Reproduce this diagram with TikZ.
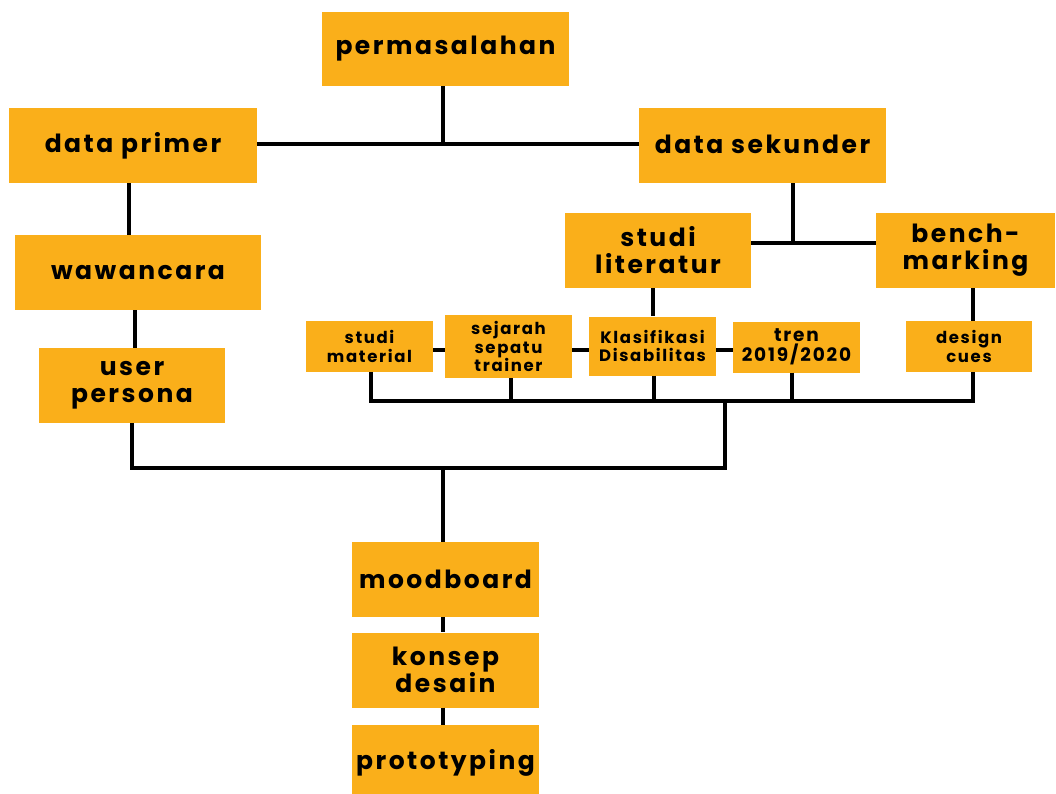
\documentclass[tikz,border=0pt]{standalone}
\usepackage{fontspec}
\setmainfont{Poppins}[LetterSpace=10]
\definecolor{boxorange}{RGB}{250,175,26}
\begin{document}
\begin{tikzpicture}[x=1pt,y=-1pt,
  box/.style={fill=boxorange,draw=none,inner sep=0pt,align=center,text=black,font=\bfseries\fontsize{25}{27}\selectfont},
  smallbox/.style={box,font=\bfseries\fontsize{16.5}{18.5}\selectfont},
  conn/.style={line width=3.5pt,draw=black}]
\useasboundingbox (0,0) rectangle (1056,794);
\fill[white] (0,0) rectangle (1056,794);
% big boxes
\node[box,minimum width=247pt,minimum height=74pt] (perm) at (445.5,49) {\raisebox{1.5pt}{permasalahan}};
\node[box,minimum width=248pt,minimum height=75pt] (dp) at (133,145.5) {\raisebox{2.5pt}{data primer}};
\node[box,minimum width=247pt,minimum height=75pt] (ds) at (762.5,145.5) {\raisebox{2.5pt}{data sekunder}};
\node[box,minimum width=246pt,minimum height=75pt] (waw) at (138,272.5) {wawancara};
\node[box,minimum width=186pt,minimum height=75pt] (up) at (132,385.5) {user\\persona};
\node[box,minimum width=186pt,minimum height=75pt] (sl) at (658,250.5) {studi\\literatur};
\node[box,minimum width=179pt,minimum height=75pt] (bm) at (965.5,250.5) {bench-\\marking};
% small boxes
\node[smallbox,minimum width=127pt,minimum height=51pt] (sm) at (369.5,346.5) {studi\\material};
\node[smallbox,minimum width=127pt,minimum height=63pt] (sst) at (508.5,346.5) {sejarah\\sepatu\\trainer};
\node[smallbox,minimum width=127pt,minimum height=59pt] (kd) at (652.5,346) {Klasifikasi\\Disabilitas};
\node[smallbox,minimum width=127pt,minimum height=51pt,font=\bfseries\fontsize{18.5}{19.5}\selectfont] (tr) at (796.5,347) {tren\\2019/2020};
\node[smallbox,minimum width=126pt,minimum height=51pt] (dc) at (969,346.5) {design\\cues};
% bottom column
\node[box,minimum width=187pt,minimum height=75pt] (mb) at (445.5,579.5) {moodboard};
\node[box,minimum width=187pt,minimum height=75pt] (kds) at (445.5,670) {konsep\\desain};
\node[box,minimum width=187pt,minimum height=75pt] (pt) at (445.5,762.5) {prototyping};
% junction coordinates
\coordinate (j1) at (443,144);
\coordinate (j2) at (793,243);
\coordinate (busL) at (371,401);
\coordinate (busR) at (973,401);
\coordinate (busM) at (725,401);
\coordinate (lowM) at (725,468);
\coordinate (lowL) at (132,468);
\coordinate (lowC) at (443,468);
% connectors
\draw[conn] (dp.east |- j1) -- (ds.west |- j1);
\draw[conn] (perm.south -| j1) -- (j1);
\draw[conn] (dp.south -| 129,0) -- (waw.north -| 129,0);
\draw[conn] (waw.south -| 135,0) -- (up.north -| 135,0);
\draw[conn] (ds.south -| j2) -- (j2);
\draw[conn] (sl.east |- j2) -- (bm.west |- j2);
\draw[conn] (sl.south -| 653,0) -- (kd.north -| 653,0);
\draw[conn] (bm.south -| busR) -- (dc.north -| busR);
\draw[conn] (sm.east |- 0,350) -- (sst.west |- 0,350);
\draw[conn] (sst.east |- 0,350) -- (kd.west |- 0,350);
\draw[conn] (kd.east |- 0,350) -- (tr.west |- 0,350);
\draw[conn] (sm.south -| busL) -- (busL) -- (busR) -- (dc.south -| busR);
\draw[conn] (sst.south -| 511,0) -- (511,401);
\draw[conn] (kd.south -| 654,0) -- (654,401);
\draw[conn] (tr.south -| 792,0) -- (792,401);
\draw[conn] (busM) -- (lowM) -- (lowL) -- (up.south -| lowL);
\draw[conn] (lowC) -- (mb.north -| lowC);
\draw[conn] (mb.south -| lowC) -- (kds.north -| lowC);
\draw[conn] (kds.south -| lowC) -- (pt.north -| lowC);
\end{tikzpicture}
\end{document}
